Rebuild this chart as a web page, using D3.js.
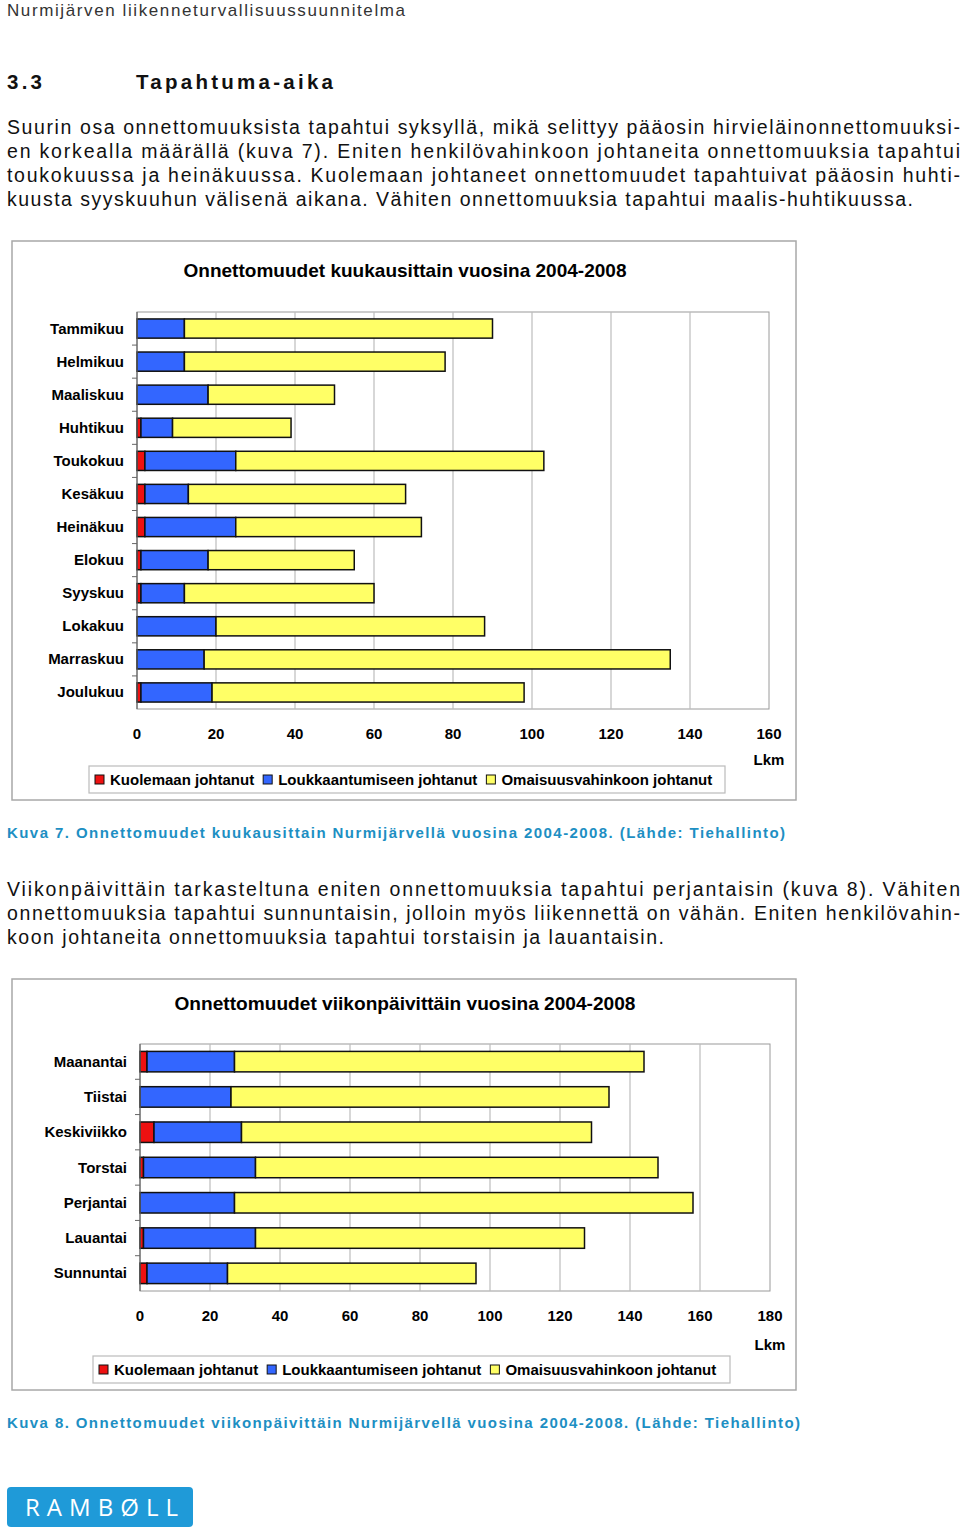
<!DOCTYPE html>
<html>
<head>
<meta charset="utf-8">
<script src="https://cdn.jsdelivr.net/npm/d3@7"></script>
<style>
  body { margin: 0; background: #fff; }
  svg { display: block; font-family: "Liberation Sans", Arial, sans-serif; }
</style>
</head>
<body>
<svg id="page" width="960" height="1527"></svg>
<script>
// Kuva 7: onnettomuudet kuukausittain 2004-2008
const MONTHS = ['Tammikuu', 'Helmikuu', 'Maaliskuu', 'Huhtikuu', 'Toukokuu', 'Kesäkuu',
  'Heinäkuu', 'Elokuu', 'Syyskuu', 'Lokakuu', 'Marraskuu', 'Joulukuu'];
const MONTH_KUOLEMA = [0, 0, 0, 1, 2, 2, 2, 1, 1, 0, 0, 1];
const MONTH_LOUKKAANTUMINEN = [12, 12, 18, 8, 23, 11, 23, 17, 11, 20, 17, 18];
const MONTH_OMAISUUS = [78, 66, 32, 30, 78, 55, 47, 37, 48, 68, 118, 79];
const MONTH_TICKS = [0, 20, 40, 60, 80, 100, 120, 140, 160];

// Kuva 8: onnettomuudet viikonpäivittäin 2004-2008
const WEEKDAYS = ['Maanantai', 'Tiistai', 'Keskiviikko', 'Torstai', 'Perjantai', 'Lauantai', 'Sunnuntai'];
const WEEKDAY_KUOLEMA = [2, 0, 4, 1, 0, 1, 2];
const WEEKDAY_LOUKKAANTUMINEN = [25, 26, 25, 32, 27, 32, 23];
const WEEKDAY_OMAISUUS = [117, 108, 100, 115, 131, 94, 71];
const WEEKDAY_TICKS = [0, 20, 40, 60, 80, 100, 120, 140, 160, 180];

const SERIES_NAMES = ['Kuolemaan johtanut', 'Loukkaantumiseen johtanut', 'Omaisuusvahinkoon johtanut'];
const SERIES_KEYS = ['kuolema', 'loukkaantuminen', 'omaisuus'];
const SERIES_COLORS = ['#ee1111', '#3366ff', '#ffff66'];

const svg = d3.select('#page');
svg.append('rect').attr('width', 960).attr('height', 1527).attr('fill', '#fff');

// Text lines; the justified ones get stretched to full width with textLength
function textLine(x, y, str, opts) {
  const t = svg.append('text')
    .attr('x', x).attr('y', y)
    .attr('font-size', opts.size)
    .attr('font-weight', opts.weight || 'normal')
    .attr('fill', opts.color || '#111')
    .text(str);
  if (opts.width) {
    t.attr('textLength', opts.width).attr('lengthAdjust', 'spacing');
  }
  return t;
}

textLine(7, 16, 'Nurmijärven liikenneturvallisuussuunnitelma', {size: 17, color: '#333', width: 398});
textLine(7, 89, '3.3', {size: 20.5, weight: 'bold', width: 35});
textLine(136, 89, 'Tapahtuma-aika', {size: 20.5, weight: 'bold', width: 197});

const para1 = [
  ['Suurin osa onnettomuuksista tapahtui syksyllä, mikä selittyy pääosin hirvieläinonnettomuuksi-', 953],
  ['en korkealla määrällä (kuva 7). Eniten henkilövahinkoon johtaneita onnettomuuksia tapahtui', 953],
  ['toukokuussa ja heinäkuussa. Kuolemaan johtaneet onnettomuudet tapahtuivat pääosin huhti-', 953],
  ['kuusta syyskuuhun välisenä aikana. Vähiten onnettomuuksia tapahtui maalis-huhtikuussa.', 906],
];
para1.forEach(([s, w], i) => textLine(7, 134 + i * 24, s, {size: 19.5, width: w}));

const para2 = [
  ['Viikonpäivittäin tarkasteltuna eniten onnettomuuksia tapahtui perjantaisin (kuva 8). Vähiten', 953],
  ['onnettomuuksia tapahtui sunnuntaisin, jolloin myös liikennettä on vähän. Eniten henkilövahin-', 953],
  ['koon johtaneita onnettomuuksia tapahtui torstaisin ja lauantaisin.', 657],
];
para2.forEach(([s, w], i) => textLine(7, 896 + i * 24, s, {size: 19.5, width: w}));

textLine(7, 838, 'Kuva 7. Onnettomuudet kuukausittain Nurmijärvellä vuosina 2004-2008. (Lähde: Tiehallinto)',
  {size: 15, weight: 'bold', color: '#1d8fc3', width: 778});
textLine(7, 1428, 'Kuva 8. Onnettomuudet viikonpäivittäin Nurmijärvellä vuosina 2004-2008. (Lähde: Tiehallinto)',
  {size: 15, weight: 'bold', color: '#1d8fc3', width: 793});

function drawChart(cfg) {
  const g = svg.append('g');

  g.append('rect')
    .attr('x', cfg.frame[0]).attr('y', cfg.frame[1])
    .attr('width', cfg.frame[2]).attr('height', cfg.frame[3])
    .attr('fill', '#fff').attr('stroke', '#a8a8a8').attr('stroke-width', 1.5);

  g.append('text')
    .attr('x', cfg.titleX).attr('y', cfg.titleY)
    .attr('text-anchor', 'middle')
    .attr('font-size', 19).attr('font-weight', 'bold')
    .attr('textLength', cfg.titleWidth).attr('lengthAdjust', 'spacingAndGlyphs')
    .text(cfg.title);

  const x = d3.scaleLinear().domain([0, d3.max(cfg.ticks)]).range([cfg.plot.left, cfg.plot.right]);
  const y = d3.scaleBand().domain(cfg.categories)
    .range([cfg.plot.top, cfg.plot.bottom])
    .paddingInner(0.42).paddingOuter(0.21);

  // plot area frame and gridlines
  g.append('rect')
    .attr('x', cfg.plot.left).attr('y', cfg.plot.top)
    .attr('width', cfg.plot.right - cfg.plot.left)
    .attr('height', cfg.plot.bottom - cfg.plot.top)
    .attr('fill', 'none').attr('stroke', '#9a9a9a').attr('stroke-width', 1);

  g.append('g')
    .selectAll('line')
    .data(cfg.ticks.slice(1, -1))
    .join('line')
      .attr('x1', (d) => x(d)).attr('x2', (d) => x(d))
      .attr('y1', cfg.plot.top).attr('y2', cfg.plot.bottom)
      .attr('stroke', '#bdbdbd').attr('stroke-width', 1.2);

  // tick labels
  g.append('g')
    .selectAll('text')
    .data(cfg.ticks)
    .join('text')
      .attr('x', (d) => x(d)).attr('y', cfg.tickY)
      .attr('text-anchor', 'middle')
      .attr('font-size', 15).attr('font-weight', 'bold')
      .text((d) => d);

  g.append('text')
    .attr('x', x(d3.max(cfg.ticks))).attr('y', cfg.lkmY)
    .attr('text-anchor', 'middle')
    .attr('font-size', 15).attr('font-weight', 'bold')
    .text('Lkm');

  // category labels
  g.append('g')
    .selectAll('text')
    .data(cfg.categories)
    .join('text')
      .attr('x', cfg.labelX)
      .attr('y', (d) => y(d) + y.bandwidth() / 2 + 5)
      .attr('text-anchor', 'end')
      .attr('font-size', 15).attr('font-weight', 'bold')
      .text((d) => d);

  // stacked bars
  const rows = cfg.categories.map((c, i) => ({
    category: c,
    kuolema: cfg.kuolema[i],
    loukkaantuminen: cfg.loukkaantuminen[i],
    omaisuus: cfg.omaisuus[i],
  }));
  const stacked = d3.stack().keys(SERIES_KEYS)(rows);

  g.append('g')
    .selectAll('g')
    .data(stacked)
    .join('g')
      .attr('fill', (d, i) => SERIES_COLORS[i])
    .selectAll('rect')
    .data((d) => d.filter((p) => p[1] > p[0]))
    .join('rect')
      .attr('x', (d) => x(d[0]))
      .attr('y', (d) => y(d.data.category))
      .attr('width', (d) => x(d[1]) - x(d[0]))
      .attr('height', y.bandwidth())
      .attr('stroke', '#111').attr('stroke-width', 1.5);

  // left axis with outward ticks at band boundaries
  const boundaries = cfg.categories.slice(1).map((c) => y(c) - y.step() * y.paddingInner() / 2);
  g.append('line')
    .attr('x1', cfg.plot.left).attr('x2', cfg.plot.left)
    .attr('y1', cfg.plot.top).attr('y2', cfg.plot.bottom)
    .attr('stroke', '#666').attr('stroke-width', 1.2);
  g.append('g')
    .selectAll('line')
    .data(boundaries)
    .join('line')
      .attr('x1', cfg.plot.left - 5).attr('x2', cfg.plot.left)
      .attr('y1', (d) => d).attr('y2', (d) => d)
      .attr('stroke', '#666').attr('stroke-width', 1);

  // legend
  const leg = cfg.legend;
  g.append('rect')
    .attr('x', leg.x).attr('y', leg.y).attr('width', leg.w).attr('height', leg.h)
    .attr('fill', '#fff').attr('stroke', '#bbb').attr('stroke-width', 1.2);

  let cx = leg.x + 6;
  SERIES_NAMES.forEach((name, i) => {
    g.append('rect')
      .attr('x', cx).attr('y', leg.y + leg.h / 2 - 4.5)
      .attr('width', 9).attr('height', 9)
      .attr('fill', SERIES_COLORS[i]).attr('stroke', '#111').attr('stroke-width', 1);
    const t = g.append('text')
      .attr('x', cx + 15).attr('y', leg.y + leg.h / 2 + 5)
      .attr('font-size', 15).attr('font-weight', 'bold')
      .text(name);
    cx += 15 + t.node().getComputedTextLength() + 9;
  });
}

drawChart({
  title: 'Onnettomuudet kuukausittain vuosina 2004-2008',
  titleX: 405, titleY: 277, titleWidth: 443,
  frame: [12, 241, 784, 559],
  plot: {left: 137, right: 769, top: 312, bottom: 709},
  categories: MONTHS,
  kuolema: MONTH_KUOLEMA,
  loukkaantuminen: MONTH_LOUKKAANTUMINEN,
  omaisuus: MONTH_OMAISUUS,
  ticks: MONTH_TICKS,
  tickY: 739, lkmY: 765,
  labelX: 124,
  legend: {x: 89, y: 766, w: 636, h: 27},
});

drawChart({
  title: 'Onnettomuudet viikonpäivittäin vuosina 2004-2008',
  titleX: 405, titleY: 1010, titleWidth: 461,
  frame: [12, 979, 784, 411],
  plot: {left: 140, right: 770, top: 1044, bottom: 1291},
  categories: WEEKDAYS,
  kuolema: WEEKDAY_KUOLEMA,
  loukkaantuminen: WEEKDAY_LOUKKAANTUMINEN,
  omaisuus: WEEKDAY_OMAISUUS,
  ticks: WEEKDAY_TICKS,
  tickY: 1321, lkmY: 1350,
  labelX: 127,
  legend: {x: 93, y: 1356, w: 637, h: 27},
});

// Ramboll logo
svg.append('rect')
  .attr('x', 7).attr('y', 1487).attr('width', 186).attr('height', 40).attr('rx', 4)
  .attr('fill', '#1f9ad8');
svg.append('text')
  .attr('x', 25).attr('y', 1516)
  .attr('font-family', '"Open Sans", sans-serif')
  .attr('font-size', 24).attr('font-weight', 400)
  .attr('fill', '#fff')
  .attr('textLength', 153).attr('lengthAdjust', 'spacing')
  .text('RAMBØLL');
</script>
</body>
</html>
